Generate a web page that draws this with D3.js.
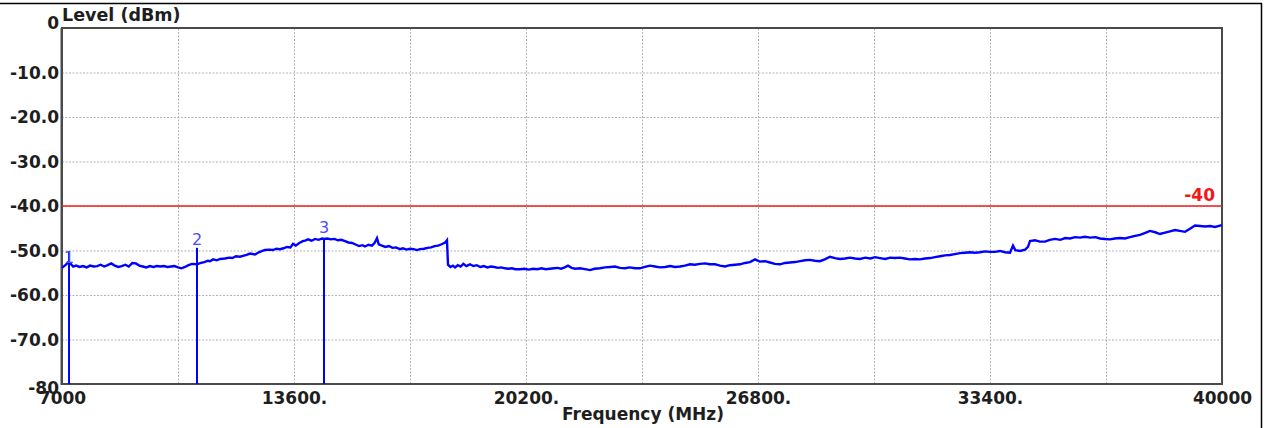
<!DOCTYPE html>
<html>
<head>
<meta charset="utf-8">
<script src="https://cdn.jsdelivr.net/npm/d3@7"></script>
<style>
  html, body { margin: 0; padding: 0; background: #fff; }
  svg { display: block; }
  .lbl { font-family: "DejaVu Sans", sans-serif; font-weight: bold; font-size: 17px; fill: #1e1e1e; }
</style>
</head>
<body>
<div id="chart"></div>
<script>
// trace (MHz / dBm)
const freqMHz = [
  7000, 7060, 7120, 7180, 7250, 7320, 7400, 7500, 7600, 7700, 7800, 7900, 8000, 8100, 8200, 8300,
  8400, 8500, 8600, 8700, 8800, 8900, 9000, 9100, 9200, 9300, 9400, 9500, 9600, 9700, 9800, 9900,
  10000, 10100, 10200, 10300, 10400, 10500, 10600, 10700, 10840, 10950, 11050, 11150, 11210, 11300,
  11400, 11500, 11637, 11750, 11850, 11950, 12064, 12150, 12250, 12350, 12490, 12600, 12700, 12775,
  12900, 13000, 13100, 13202, 13300, 13400, 13500, 13571, 13650, 13750, 13850, 13913, 14000, 14100,
  14200, 14300, 14400, 14453, 14550, 14650, 14750, 14850, 14950, 15050, 15150, 15250, 15335, 15450,
  15550, 15620, 15720, 15820, 15900, 15961, 16010, 16100, 16200, 16300, 16400, 16500, 16615, 16700,
  16800, 16900, 17000, 17100, 17184, 17300, 17400, 17500, 17600, 17700, 17800, 17900, 17952, 17981,
  18050, 18120, 18180, 18260, 18340, 18420, 18500, 18607, 18700, 18800, 18900, 19000, 19100, 19200,
  19300, 19400, 19500, 19600, 19700, 19800, 19900, 20029, 20150, 20280, 20400, 20520, 20640, 20760,
  20880, 21000, 21100, 21200, 21300, 21395, 21500, 21600, 21736, 21878, 22021, 22150, 22305, 22450,
  22600, 22732, 22870, 23016, 23150, 23300, 23443, 23580, 23727, 23870, 24010, 24154, 24300, 24440,
  24581, 24720, 24865, 25000, 25150, 25292, 25430, 25577, 25720, 25861, 26000, 26150, 26288, 26430,
  26572, 26714, 26850, 26999, 27140, 27280, 27426, 27570, 27710, 27852, 28000, 28140, 28279, 28420,
  28563, 28700, 28848, 28990, 29130, 29275, 29420, 29560, 29702, 29850, 30000, 30130, 30270, 30420,
  30560, 30700, 30839, 30980, 31120, 31270, 31408, 31550, 31700, 31835, 31980, 32120, 32262, 32400,
  32550, 32689, 32830, 32970, 33115, 33260, 33400, 33542, 33680, 33830, 33969, 34054, 34120, 34253,
  34400, 34480, 34538, 34680, 34820, 34964, 35100, 35249, 35400, 35540, 35676, 35820, 35960, 36102,
  36250, 36400, 36529, 36670, 36813, 36950, 37100, 37240, 37380, 37530, 37667, 37800, 37951, 38100,
  38236, 38380, 38520, 38663, 38800, 38947, 39090, 39231, 39380, 39520, 39658, 39800, 40000
]
const levelDbm = [
  -53.9, -53.5, -53.1, -52.6, -53.0, -53.6, -53.4, -53.7, -53.5, -53.8, -53.4, -53.6, -53.5, -53.2, -53.6, -53.3,
  -52.9, -53.4, -53.7, -53.5, -53.2, -53.6, -52.8, -52.9, -53.4, -53.6, -53.8, -53.5, -53.7, -53.5, -53.6, -53.5,
  -53.7, -53.6, -53.5, -53.8, -54.0, -53.7, -53.3, -53.0, -53.1, -52.8, -52.6, -52.3, -52.4, -52.0,
  -52.2, -51.9, -51.8, -51.6, -51.7, -51.3, -51.4, -51.2, -51.0, -50.7, -50.9, -50.4, -50.1, -49.9,
  -49.8, -49.9, -49.6, -49.7, -49.5, -49.2, -49.3, -48.5, -48.9, -48.3, -47.9, -47.8, -47.5, -47.8,
  -47.4, -47.6, -47.3, -47.4, -47.3, -47.5, -47.4, -47.7, -47.6, -47.9, -48.2, -48.3, -48.6, -49.0,
  -48.8, -49.1, -48.7, -48.9, -48.2, -47.2, -48.6, -48.9, -49.2, -49.0, -49.4, -49.3, -49.7, -49.5,
  -49.8, -49.6, -49.7, -49.9, -49.7, -49.6, -49.4, -49.3, -49.0, -48.9, -48.6, -48.2, -47.7, -53.2,
  -53.7, -53.4, -53.8, -53.3, -53.6, -53.0, -53.5, -53.1, -53.5, -53.3, -53.7, -53.5, -53.8, -53.6,
  -53.7, -53.9, -53.8, -54.0, -54.1, -54.0, -54.2, -54.2, -54.1, -54.3, -54.1, -54.2, -54.0, -54.2,
  -54.1, -54.0, -53.9, -54.1, -53.8, -53.4, -53.9, -54.1, -54.0, -54.2, -54.4, -54.1, -54.0, -53.8,
  -53.7, -53.6, -53.9, -54.0, -53.8, -54.0, -54.0, -53.7, -53.4, -53.6, -53.8, -53.7, -53.5, -53.7,
  -53.6, -53.4, -53.1, -53.2, -53.0, -52.9, -53.1, -53.1, -53.4, -53.6, -53.3, -53.2, -53.1, -52.8,
  -52.6, -52.0, -52.5, -52.4, -52.7, -53.0, -53.1, -52.8, -52.7, -52.6, -52.4, -52.2, -52.1, -52.3,
  -52.4, -52.0, -51.4, -51.7, -51.9, -51.8, -51.6, -51.8, -51.9, -51.6, -51.8, -51.5, -51.7, -51.9,
  -51.6, -51.7, -51.6, -51.8, -52.0, -51.9, -52.0, -51.8, -51.7, -51.5, -51.3, -51.1, -51.0, -50.8,
  -50.6, -50.5, -50.4, -50.5, -50.4, -50.2, -50.3, -50.3, -50.1, -50.4, -50.5, -48.9, -49.9, -50.1,
  -49.8, -49.2, -47.9, -47.7, -48.0, -48.0, -47.6, -47.4, -47.6, -47.2, -47.3, -47.0, -47.1, -46.9,
  -47.1, -47.0, -47.3, -47.4, -47.5, -47.3, -47.2, -47.3, -47.0, -46.7, -46.5, -46.1, -45.6, -45.9,
  -46.3, -46.0, -45.7, -45.4, -45.6, -45.8, -45.1, -44.4, -44.5, -44.6, -44.5, -44.7, -44.3
]

// markers: frequency, top of the marker stem, label baseline level
const markerIds = ['1', '2', '3']
const markerFreq = [7200, 10840, 14453]
const markerTop = [-50.1, -49.4, -47.2]
const markerLabelLevel = [-52.8, -48.8, -46.1]

const limitLevel = -40
const limitLabel = '-40'

const freqDomain = [7000, 40000]
const levelDomain = [-80, 0]
const xGridValues = [7000, 10300, 13600, 16900, 20200, 23500, 26800, 30100, 33400, 36700, 40000]
const xTickValues = [7000, 13600, 20200, 26800, 33400, 40000]
const xTickLabels = ['7000', '13600.', '20200.', '26800.', '33400.', '40000']
const yTickValues = [0, -10, -20, -30, -40, -50, -60, -70, -80]
const yTickLabels = ['0', '-10.0', '-20.0', '-30.0', '-40.0', '-50.0', '-60.0', '-70.0', '-80']

const width = 1268
const height = 428
const plot = { left: 62, right: 1222, top: 28, bottom: 384 }

const svg = d3.select('#chart').append('svg')
  .attr('width', width)
  .attr('height', height)

const x = d3.scaleLinear().domain(freqDomain).range([plot.left, plot.right])
const y = d3.scaleLinear().domain(levelDomain).range([plot.bottom, plot.top])

// outer frame (top + right edge of the screenshot)
svg.append('line').attr('x1', 0).attr('x2', 1262).attr('y1', 3.5).attr('y2', 3.5)
  .attr('stroke', '#000').attr('stroke-width', 1.5)
svg.append('line').attr('x1', 1261.5).attr('x2', 1261.5).attr('y1', 3).attr('y2', height)
  .attr('stroke', '#000').attr('stroke-width', 1.5)

// grid
svg.append('g')
  .attr('transform', `translate(0,${plot.bottom})`)
  .call(d3.axisBottom(x).tickValues(xGridValues).tickSize(-(plot.bottom - plot.top)).tickFormat(''))
  .call(g => g.select('.domain').remove())
  .call(g => g.selectAll('line').attr('stroke', '#b4b4b4').attr('stroke-dasharray', '2,1.5'))

svg.append('g')
  .attr('transform', `translate(${plot.left},0)`)
  .call(d3.axisLeft(y).tickValues(yTickValues).tickSize(-(plot.right - plot.left)).tickFormat(''))
  .call(g => g.select('.domain').remove())
  .call(g => g.selectAll('line').attr('stroke', '#b4b4b4').attr('stroke-dasharray', '2,1.5'))

// plot frame
svg.append('rect')
  .attr('x', plot.left).attr('y', plot.top)
  .attr('width', plot.right - plot.left).attr('height', plot.bottom - plot.top)
  .attr('fill', 'none').attr('stroke', '#4a4a4a').attr('stroke-width', 2)
svg.append('line').attr('x1', plot.left - 0.5).attr('x2', plot.left - 0.5)
  .attr('y1', plot.top).attr('y2', plot.bottom + 1).attr('stroke', '#4a4a4a').attr('stroke-width', 2)

// y labels
const yAxis = svg.append('g')
  .attr('transform', `translate(${plot.left - 1},0)`)
  .call(d3.axisLeft(y).tickValues(yTickValues).tickSize(0).tickPadding(2)
    .tickFormat((d, i) => yTickLabels[i]))
yAxis.select('.domain').remove()
yAxis.selectAll('text')
  .attr('class', 'lbl')
  .attr('font-family', null).attr('font-size', null)
  .attr('dy', d => d === 0 ? '0.0em' : d === -80 ? '0.55em' : '0.34em')

// x labels
const xAxis = svg.append('g')
  .attr('transform', `translate(0,${plot.bottom})`)
  .call(d3.axisBottom(x).tickValues(xTickValues).tickSize(0).tickPadding(8)
    .tickFormat((d, i) => xTickLabels[i]))
xAxis.select('.domain').remove()
xAxis.selectAll('text')
  .attr('class', 'lbl')
  .attr('font-family', null).attr('font-size', null)

// axis titles
svg.append('text').attr('class', 'lbl')
  .attr('x', plot.left).attr('y', 21)
  .style('font-size', '17.5px')
  .text('Level (dBm)')
svg.append('text').attr('class', 'lbl')
  .attr('x', (plot.left + plot.right) / 2 + 1).attr('y', 420)
  .attr('text-anchor', 'middle')
  .text('Frequency (MHz)')

// limit line
svg.append('line')
  .attr('x1', x(freqDomain[0])).attr('x2', x(freqDomain[1]))
  .attr('y1', y(limitLevel)).attr('y2', y(limitLevel))
  .attr('stroke', '#f01c1c').attr('stroke-width', 1.5)
svg.append('text').attr('class', 'lbl')
  .attr('x', x(freqDomain[1]) - 7).attr('y', y(limitLevel) - 5)
  .attr('text-anchor', 'end')
  .style('fill', '#f21818')
  .text(limitLabel)

// trace
const trace = freqMHz.map((f, i) => [f, levelDbm[i]])
svg.append('path')
  .datum(trace)
  .attr('fill', 'none')
  .attr('stroke', '#0000ff')
  .attr('stroke-width', 2.4)
  .attr('stroke-linejoin', 'miter')
  .attr('d', d3.line().x(d => x(d[0])).y(d => y(d[1])))

// markers
const markers = markerIds.map((id, i) => ({
  id, f: markerFreq[i], top: markerTop[i], lab: markerLabelLevel[i]
}))
const mk = svg.append('g').selectAll('g').data(markers).join('g')
mk.append('line')
  .attr('x1', d => x(d.f)).attr('x2', d => x(d.f))
  .attr('y1', d => y(d.top)).attr('y2', y(levelDomain[0]))
  .attr('stroke', '#0000ff').attr('stroke-width', 2)
mk.append('text')
  .attr('x', d => x(d.f)).attr('y', d => y(d.lab))
  .attr('text-anchor', 'middle')
  .attr('font-family', 'DejaVu Sans, sans-serif')
  .attr('font-size', 16)
  .attr('fill', '#4b4bff')
  .text(d => d.id)
</script>
</body>
</html>
